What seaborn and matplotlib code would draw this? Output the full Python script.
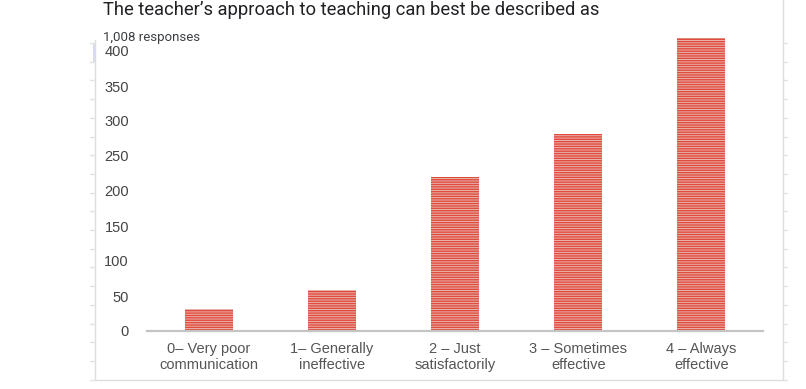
import matplotlib
matplotlib.use('Agg')
import matplotlib.pyplot as plt
import seaborn as sns
import pandas as pd
import numpy as np
from matplotlib.lines import Line2D

# Chart data
categories = ['0– Very poor\ncommunication', '1– Generally\nineffective', '2 – Just\nsatisfactorily',
              '3 – Sometimes\neffective', '4 – Always\neffective']
counts = [31, 58, 220, 281, 418]
y_ticks = [0, 50, 100, 150, 200, 250, 300, 350, 400]

title = "The teacher\u2019s approach to teaching can best be described as"
subtitle = "1,008 responses"

sns.set_theme(style='white')
plt.rcParams['font.family'] = ['Liberation Sans', 'DejaVu Sans']
plt.rcParams['hatch.linewidth'] = 1.0

W, H = 806, 389
fig = plt.figure(figsize=(W / 100, H / 100), dpi=100)
fig.patch.set_facecolor('white')

# axes placed in pixel coordinates
ax_left, ax_right, ax_zero, ax_top = 147, 763, 331, 37
ax = fig.add_axes([ax_left / W, (H - ax_zero) / H, (ax_right - ax_left) / W, (ax_zero - ax_top) / H])

df = pd.DataFrame({'category': categories, 'count': counts})
sns.barplot(data=df, x='category', y='count', ax=ax, width=0.39,
            color='#f0aca5', edgecolor='#e24a3c', linewidth=0)
for p in ax.patches:
    p.set_hatch('-------')
    p.set_edgecolor('#e24a3c')
    p.set_linewidth(0)

ax.set_xlim(-0.5, len(categories) - 0.5)
ax.set_ylim(0, 420)
ax.set_yticks(y_ticks)
ax.set_xlabel('')
ax.set_ylabel('')
ax.tick_params(axis='y', length=0, pad=13, labelsize=10.5, labelcolor='#444444')
ax.tick_params(axis='x', length=0, pad=8, labelsize=10.5, labelcolor='#555555')
for lab in ax.get_xticklabels():
    lab.set_linespacing(1.15)

for s in ['top', 'right', 'left']:
    ax.spines[s].set_visible(False)
ax.spines['bottom'].set_color('#c4c4c4')
ax.spines['bottom'].set_linewidth(1.6)
ax.grid(False)

# header texts
fig.text(103 / W, 1 - 10 / H, title, fontsize=13.2, color='#202124',
         family=['Roboto', 'DejaVu Sans'], va='center', ha='left')
fig.text(103 / W, 1 - 37 / H, subtitle, fontsize=9.5, color='#3c4043',
         family=['Roboto', 'DejaVu Sans'], va='center', ha='left')

# screenshot frame around the embedded chart
def px_line(x0, y0, x1, y1, color='#dddddd', lw=1.0):
    fig.add_artist(Line2D([x0 / W, x1 / W], [1 - y0 / H, 1 - y1 / H],
                          transform=fig.transFigure, color=color, lw=lw))

px_line(95, 40, 95, 380)
px_line(95, 380, 783, 380)
px_line(783, 0, 783, 380)
for y in np.arange(43, 380, 18.7):
    px_line(90, y, 95, y, color='#e3e3e3')
    px_line(783, y, 787, y, color='#e3e3e3')
fig.add_artist(plt.Rectangle((93 / W, 1 - 62 / H), 3 / W, 18 / H,
                             transform=fig.transFigure, color='#d6dcf5', lw=0))

plt.savefig('out.png', dpi=100)
